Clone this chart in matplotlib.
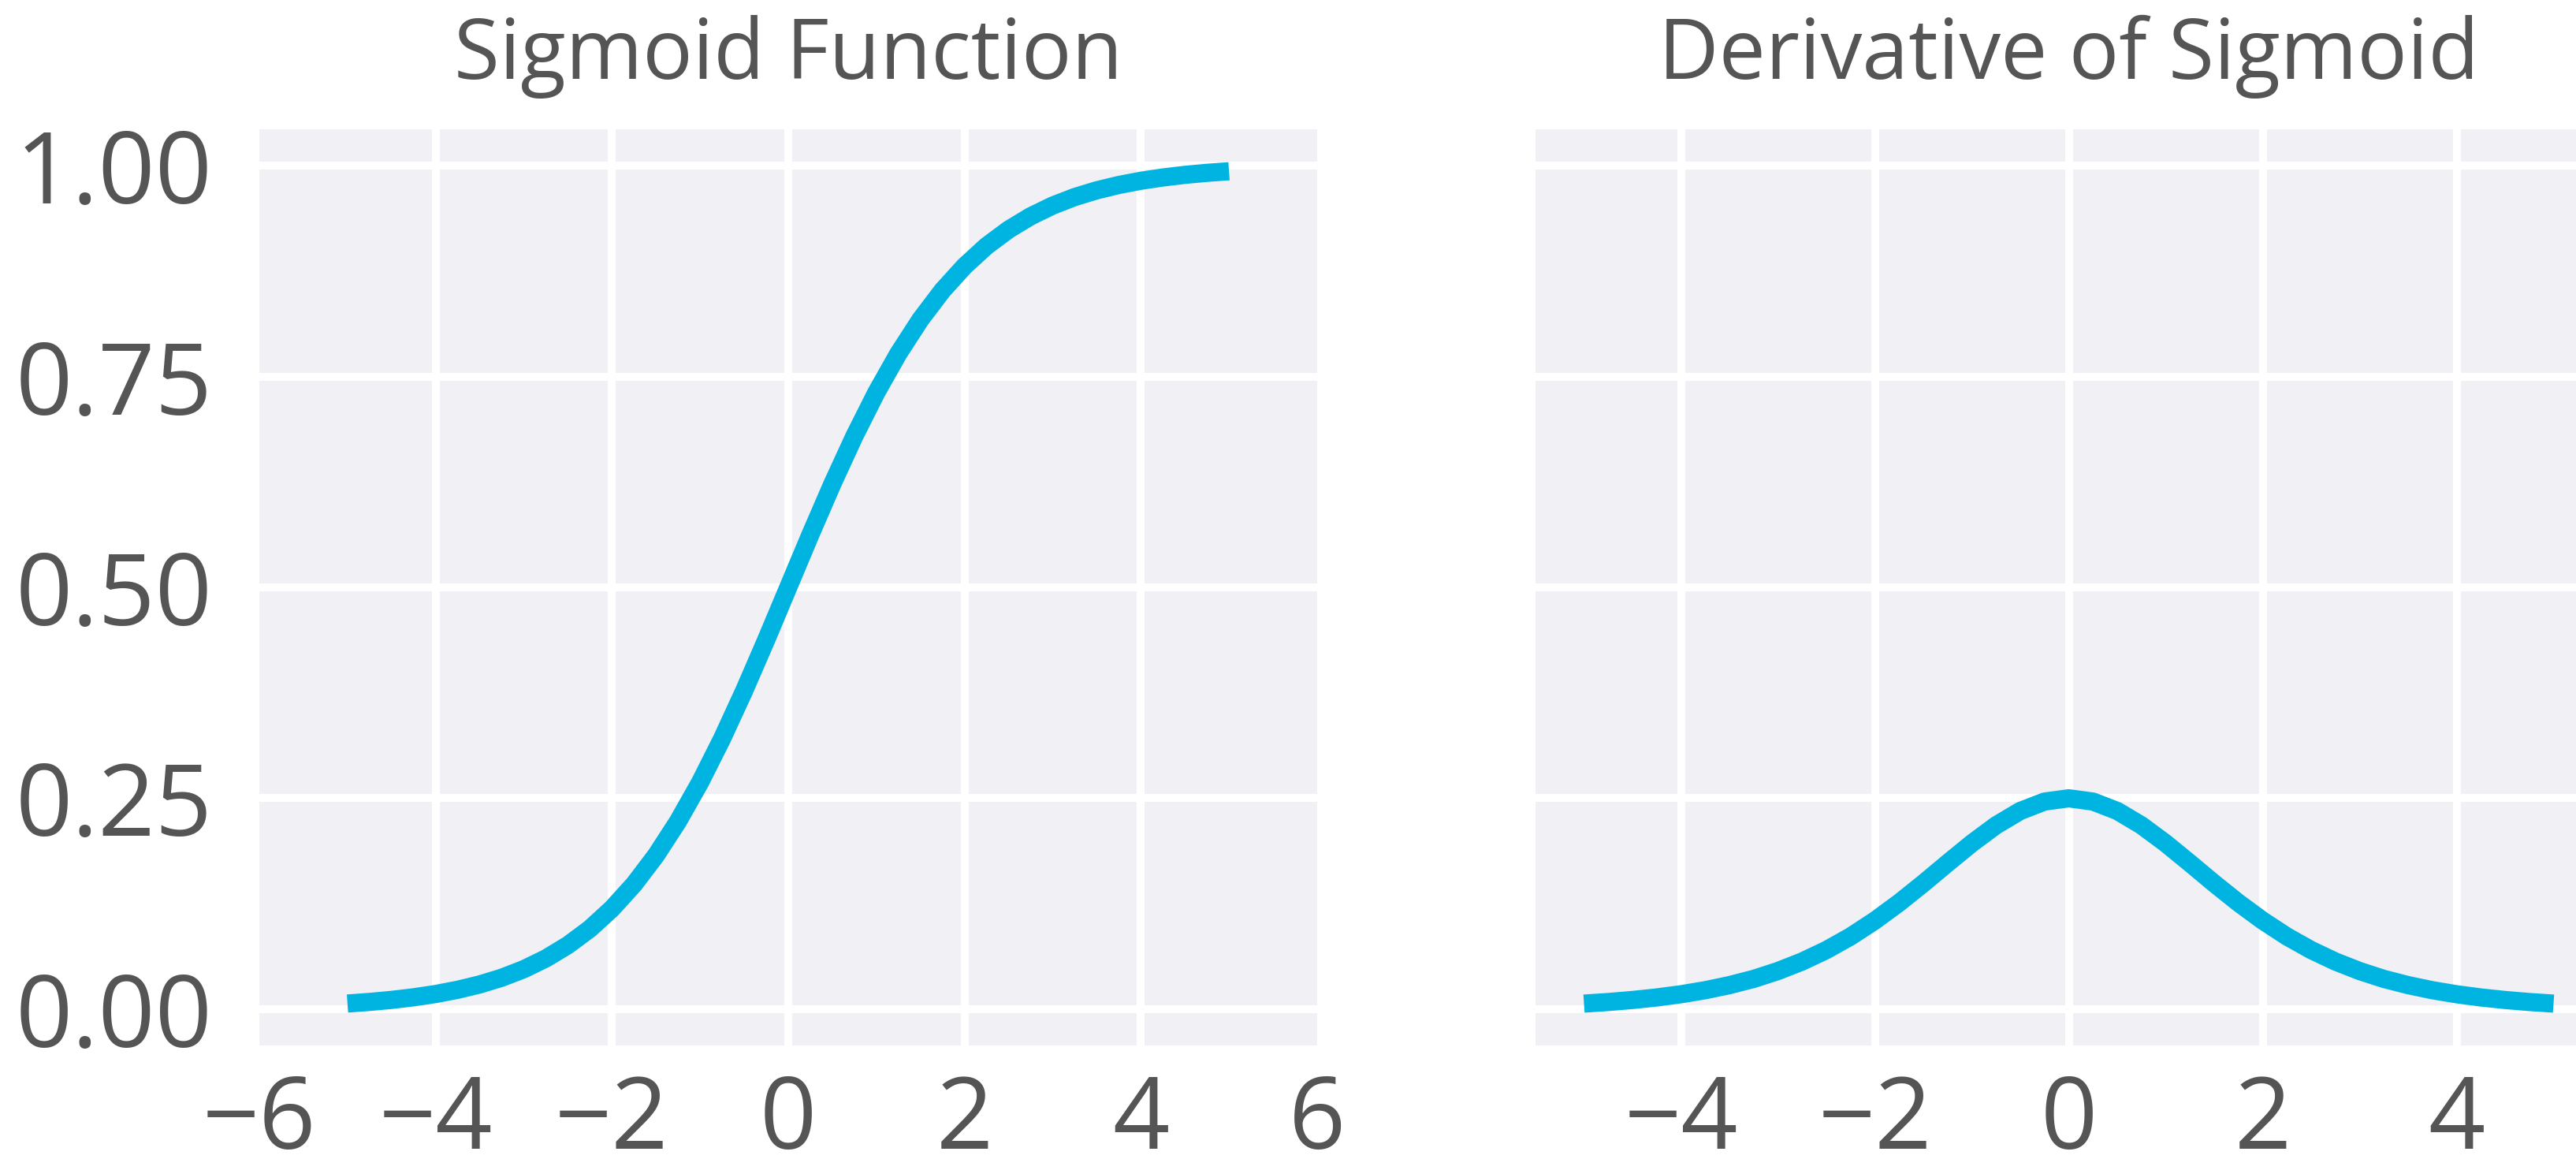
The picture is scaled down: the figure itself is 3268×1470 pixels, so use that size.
import matplotlib
matplotlib.use("Agg")
import matplotlib.pyplot as plt

# ---- data ----
x_vals = [-5.0, -4.75, -4.5, -4.25, -4.0, -3.75, -3.5, -3.25, -3.0, -2.75, -2.5,
          -2.25, -2.0, -1.75, -1.5, -1.25, -1.0, -0.75, -0.5, -0.25, 0.0,
          0.25, 0.5, 0.75, 1.0, 1.25, 1.5, 1.75, 2.0, 2.25, 2.5,
          2.75, 3.0, 3.25, 3.5, 3.75, 4.0, 4.25, 4.5, 4.75, 5.0]
sigmoid_vals = [0.0067, 0.0086, 0.0110, 0.0141, 0.0180, 0.0230, 0.0293, 0.0373, 0.0474, 0.0601, 0.0759,
                0.0953, 0.1192, 0.1480, 0.1824, 0.2227, 0.2689, 0.3208, 0.3775, 0.4378, 0.5000,
                0.5622, 0.6225, 0.6792, 0.7311, 0.7773, 0.8176, 0.8520, 0.8808, 0.9047, 0.9241,
                0.9399, 0.9526, 0.9627, 0.9707, 0.9770, 0.9820, 0.9859, 0.9890, 0.9914, 0.9933]
deriv_vals = [0.0066, 0.0085, 0.0109, 0.0139, 0.0177, 0.0225, 0.0285, 0.0359, 0.0452, 0.0565, 0.0701,
              0.0862, 0.1050, 0.1261, 0.1491, 0.1731, 0.1966, 0.2179, 0.2350, 0.2461, 0.2500,
              0.2461, 0.2350, 0.2179, 0.1966, 0.1731, 0.1491, 0.1261, 0.1050, 0.0862, 0.0701,
              0.0565, 0.0452, 0.0359, 0.0285, 0.0225, 0.0177, 0.0139, 0.0109, 0.0085, 0.0066]
titles = ["Sigmoid Function", "Derivative of Sigmoid"]
left_xticks = [-6, -4, -2, 0, 2, 4, 6]
right_xticks = [-4, -2, 0, 2, 4]
yticks = [0.0, 0.25, 0.5, 0.75, 1.0]
ytick_labels = ["0.00", "0.25", "0.50", "0.75", "1.00"]

# ---- style ----
LINE = "#00B4E1"
TEXT = "#555555"
BG = "#F0F0F5"
plt.rcParams["font.family"] = ["Open Sans", "DejaVu Sans"]

W, H, DPI = 3268, 1470, 200
fig = plt.figure(figsize=(W / DPI, H / DPI), dpi=DPI)
fig.patch.set_facecolor("white")

bottom = (H - 1326) / H
height = (1326 - 164) / H
ax1 = fig.add_axes([329 / W, bottom, 1342 / W, height])
ax2 = fig.add_axes([1948 / W, bottom, 1353 / W, height])

for ax, yv, title in [(ax1, sigmoid_vals, titles[0]), (ax2, deriv_vals, titles[1])]:
    ax.set_facecolor(BG)
    for s in ax.spines.values():
        s.set_visible(False)
    ax.grid(True, color="white", linewidth=3.6)
    ax.set_axisbelow(True)
    ax.plot(x_vals, yv, color=LINE, linewidth=8.3, solid_capstyle="butt")
    ax.set_ylim(-0.043, 1.043)
    ax.set_yticks(yticks)
    ax.set_title(title, fontsize=38, color=TEXT, pad=23)
    ax.tick_params(axis="both", length=0, labelsize=45.5, colors=TEXT)
    ax.tick_params(axis="x", pad=12.5)
    ax.tick_params(axis="y", pad=21.5)

ax1.set_xlim(-6, 6)
ax1.set_xticks(left_xticks)
ax1.set_yticklabels(ytick_labels)
ax2.set_xlim(-5.5, 5.5)
ax2.set_xticks(right_xticks)
ax2.set_yticklabels([])

# hide the grid lines that fall on the left plot's edges
gl = ax1.get_xgridlines()
gl[0].set_visible(False)
gl[-1].set_visible(False)

fig.savefig("out.png", dpi=DPI, facecolor="white")
